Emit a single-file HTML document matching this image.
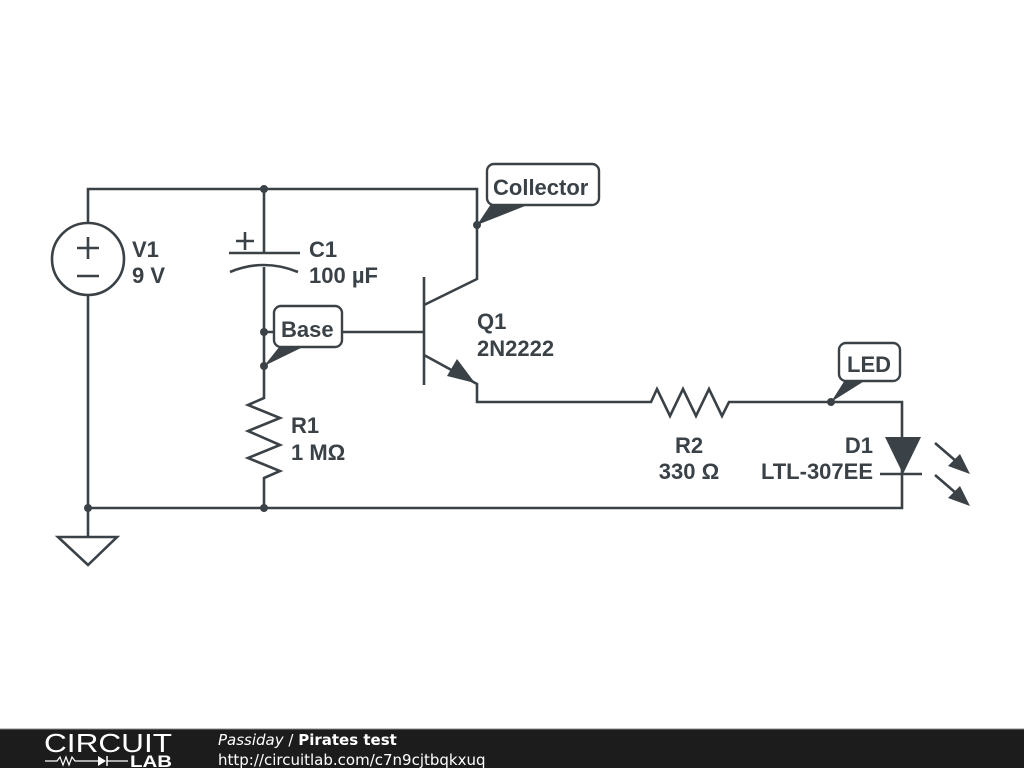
<!DOCTYPE html>
<html><head><meta charset="utf-8"><style>
html,body{margin:0;padding:0;background:#fff;width:1024px;height:768px;overflow:hidden}
svg{display:block}
.t{font-family:"Liberation Sans",sans-serif;font-weight:bold;font-size:22px;fill:#3b4247}
</style></head><body>
<svg width="1024" height="768" viewBox="0 0 1024 768">
<g fill="none" stroke="#3b4247" stroke-width="2.6" stroke-linejoin="miter">
<polyline points="88,222 88,189 477,189 477,279 424,305"/>
<circle cx="88" cy="259" r="36"/>
<line x1="77" y1="248" x2="99" y2="248"/><line x1="88" y1="237" x2="88" y2="259"/>
<line x1="77" y1="276" x2="99" y2="276"/>
<polyline points="88,295 88,508"/>
<line x1="88" y1="508" x2="88" y2="537"/>
<polygon points="58,537 117,537 88,565"/>
<line x1="264" y1="189" x2="264" y2="253"/>
<line x1="229" y1="253" x2="300" y2="253"/>
<line x1="236" y1="241" x2="254" y2="241"/><line x1="245" y1="232" x2="245" y2="250"/>
<path d="M230,272 Q264,258 298,272"/>
<polyline points="264,267 264,398 248,405 280,418 248,431 280,445 248,458 280,471 264,478 264,508"/>
<line x1="264" y1="332" x2="424" y2="332"/>
<line x1="424" y1="277" x2="424" y2="385"/>
<polyline points="424,355 477,384 477,402 651,402 657,389 670,416 683,389 696,416 709,389 722,416 729,402 902,402 902,508 88,508"/>
<line x1="880" y1="474" x2="922" y2="474"/>
<line x1="935" y1="443" x2="964" y2="468"/><line x1="935" y1="475" x2="964" y2="500"/>
</g>
<g fill="#3b4247">
<polygon points="475,383 447,376 457,359"/>
<polygon points="885,437 921,437 903,474"/>
<polygon points="970,474 948,466 960,454"/>
<polygon points="970,506 948,498 960,486"/>
<circle cx="264" cy="189" r="4"/><circle cx="477" cy="225" r="4"/>
<circle cx="264" cy="332" r="4"/><circle cx="264" cy="366" r="4"/>
<circle cx="831" cy="402" r="4"/><circle cx="88" cy="508" r="4"/><circle cx="264" cy="508" r="4"/>
<polygon points="477,225 491,204 530,204"/>
<polygon points="264,366 280,346 305,346"/>
<polygon points="831,402 845,380 866,380"/>
</g>
<g fill="#fff" stroke="#3b4247" stroke-width="2.4">
<rect x="487" y="164" width="112" height="41" rx="7"/>
<rect x="274" y="306" width="68" height="41" rx="7"/>
<rect x="839" y="343" width="61" height="38" rx="7"/>
</g>
<text class="t" x="493" y="195">Collector</text>
<text class="t" x="281" y="337">Base</text>
<text class="t" x="847" y="372">LED</text>
<text class="t" x="132" y="257">V1</text><text class="t" x="132" y="283">9 V</text>
<text class="t" x="309" y="257">C1</text><text class="t" x="309" y="283">100 µF</text>
<text class="t" x="477" y="329">Q1</text><text class="t" x="477" y="356">2N2222</text>
<text class="t" x="291" y="433">R1</text><text class="t" x="291" y="460">1 MΩ</text>
<text class="t" x="689" y="453" text-anchor="middle">R2</text><text class="t" x="689" y="479" text-anchor="middle">330 Ω</text>
<text class="t" x="873" y="453" text-anchor="end">D1</text><text class="t" x="873" y="479" text-anchor="end">LTL-307EE</text>
<rect x="0" y="729" width="1024" height="39" fill="#1c1c1c"/>
<line x1="0" y1="729" x2="1024" y2="729" stroke="#888" stroke-width="1"/>
<text x="44" y="752" font-family="Liberation Sans,sans-serif" font-size="26" fill="#fff" textLength="128" lengthAdjust="spacingAndGlyphs">CIRCUIT</text>
<polyline points="45,761 57,761 60,757 63,765 66,757 69,765 72,757 75,761 98,761" fill="none" stroke="#fff" stroke-width="1.2"/>
<polygon points="98,756 98,766 106,761" fill="#fff"/>
<line x1="107" y1="756" x2="107" y2="766" stroke="#fff" stroke-width="1.5"/>
<line x1="107" y1="761" x2="128" y2="761" stroke="#fff" stroke-width="1.2"/>
<text x="130" y="767" font-family="Liberation Sans,sans-serif" font-size="17" font-weight="bold" fill="#fff" textLength="42" lengthAdjust="spacingAndGlyphs">LAB</text>
<text x="218" y="745" font-family="DejaVu Sans,sans-serif" font-size="15" fill="#fff"><tspan font-style="italic">Passiday</tspan> / <tspan font-weight="bold">Pirates test</tspan></text>
<text x="218" y="765" font-family="DejaVu Sans,sans-serif" font-size="15" fill="#fff">http://circuitlab.com/c7n9cjtbqkxuq</text>
</svg>
</body></html>
